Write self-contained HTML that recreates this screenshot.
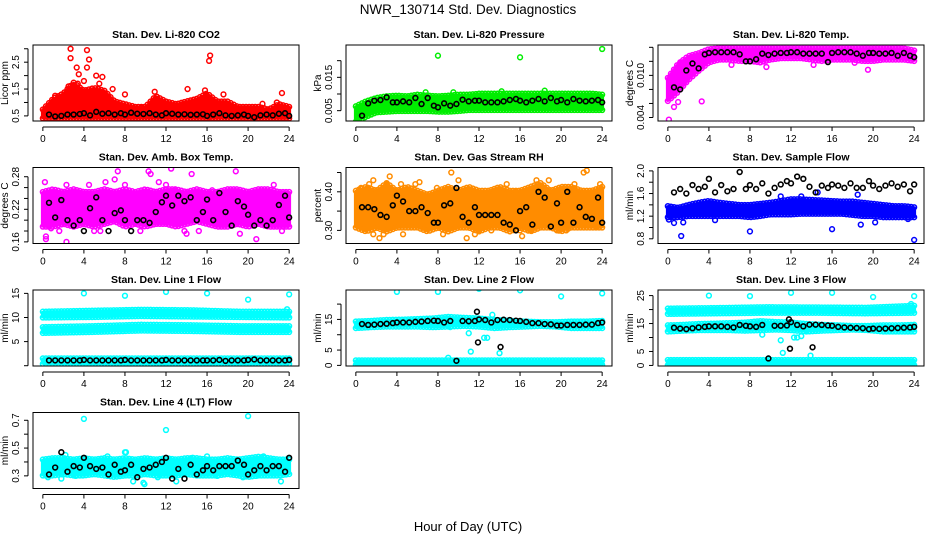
<!DOCTYPE html>
<html><head><meta charset="utf-8"><style>
body{margin:0;background:#fff;}
svg{display:block;font-family:"Liberation Sans",sans-serif;}
</style></head><body>
<svg id="chart" width="936" height="540" viewBox="0 0 936 540" xmlns="http://www.w3.org/2000/svg">
<text x="468" y="14" font-size="13.5" text-anchor="middle">NWR_130714 Std. Dev. Diagnostics</text>
<text x="468" y="531" font-size="13" text-anchor="middle">Hour of Day (UTC)</text>
</svg>
<script>
// shared hour positions for black (hourly) points
const bx = [0.6,1.2,1.8,2.4,3.0,3.6,4.0,4.6,5.2,5.8,6.4,7.0,7.6,8.0,8.6,9.2,9.8,10.4,11.0,11.6,12.0,12.6,13.2,13.8,14.4,15.0,15.6,16.0,16.6,17.2,17.8,18.4,19.0,19.6,20.0,20.6,21.2,21.8,22.4,23.0,23.6,24.0];
const xTicks = [0,4,8,12,16,20,24];

// Panel 1: CO2
const p1BandLo = [0.45,0.45];
const p1BandHi = [0.7,1.1,1.3,1.7,1.4,1.5,1.4,1.0,0.9,0.8,0.8,1.2,1.0,0.9,1.0,1.1,1.3,1.0,1.0,0.8,0.8,0.8,0.7,0.9,0.8];
const p1OutX = [2.7,2.7,4.3,4.5,3.3,4.3,3.5,5.2,5.8,16.3,16.2,14.1,6.8,1.2,8.0,17.6,23.3,10.9,2.5,3.4,4.0,5.5,15.8,16.0,1.5,9.6,21.4,22.8,7.0];
const p1OutY = [3.0,2.65,2.95,2.6,2.3,2.3,2.05,2.0,1.95,2.75,2.55,1.5,1.5,1.25,1.3,1.3,1.35,1.4,1.6,1.7,1.8,1.7,1.45,0.35,1.0,0.8,0.95,1.0,0.95];
const p1Black = [0.55,0.48,0.5,0.55,0.55,0.57,0.6,0.52,0.65,0.58,0.6,0.55,0.6,0.55,0.62,0.58,0.57,0.6,0.55,0.52,0.6,0.58,0.55,0.56,0.54,0.55,0.56,0.5,0.55,0.6,0.52,0.5,0.52,0.55,0.5,0.45,0.52,0.55,0.52,0.58,0.6,0.5];

// Panel 2: Pressure
const p2BandLo = [.002,.0035,.0048,.005,.0052,.0052,.0052,.0052,.005,.005,.0052,.0055,.0055,.0055,.0055,.0055,.0055,.0055,.0055,.0055,.0055,.0055,.0055,.0055,.0055];
const p2BandHi = [.006,.0075,.0085,.009,.0092,.009,.0095,.0092,.009,.0092,.0095,.0095,.0098,.0098,.0098,.0098,.0098,.0098,.0098,.0098,.0098,.0098,.0098,.0098,.0095];
const p2OutX = [8.0,16.0,24.0,6.8,9.5,18.4,14.2];
const p2OutY = [.0215,.021,.0235,.0105,.0105,.011,.0108];
const p2Black = [.0035,.0072,.008,.0082,.009,.0075,.0075,.0078,.0075,.0088,.007,.0088,.0065,.006,.0072,.0065,.007,.0083,.0078,.008,.008,.0075,.0075,.0075,.0078,.0082,.0085,.008,.0075,.008,.0085,.0078,.0088,.0078,.0082,.0075,.0085,.008,.0078,.008,.0082,.0075];

// Panel 3: Li-820 Temp
const p3BandLo = [.0065,.0078,.0095,.0108,.0120,.0124,.0124,.0122,.0122,.0120,.0124,.0126,.0126,.0126,.0124,.0122,.0124,.0124,.0124,.0122,.0122,.0124,.0124,.0124,.0122];
const p3BandHi = [.0095,.0115,.0126,.0130,.0136,.0137,.0137,.0137,.0137,.0137,.0137,.0137,.0137,.0137,.0137,.0137,.0137,.0137,.0137,.0137,.0137,.0137,.0137,.0137,.0134];
const p3OutX = [0.1,0.6,1.0,3.3,19.5,9.6,0.2,1.3,6.2,14.2,18.2];
const p3OutY = [.0037,.0055,.0062,.0063,.0108,.0112,.0085,.0118,.0115,.0115,.0118];
const p3Black = [.0083,.0080,.0107,.0117,.0110,.0130,.0132,.0133,.0133,.0133,.0133,.0130,.0120,.0120,.0123,.0131,.0129,.0131,.0132,.0132,.0133,.0133,.0131,.0131,.0131,.0131,.0119,.0132,.0133,.0133,.0133,.0131,.0128,.0132,.0132,.0131,.0131,.0132,.0128,.0132,.0128,.0126];

// Panel 4: Amb. Box Temp
const p4BandLo = [.19,.19,.195,.19,.195,.19,.195,.2,.19,.195,.19,.195,.195,.19,.195,.2,.195,.19,.19,.195,.19,.195,.19,.19,.19];
const p4BandHi = [.25,.255,.25,.255,.25,.25,.255,.25,.255,.25,.255,.25,.255,.255,.25,.255,.25,.25,.255,.255,.25,.255,.255,.25,.25];
const p4OutX = [0.2,0.3,0.3,2.3,2.9,4.5,5.6,6.1,7.0,7.3,9.5,10.3,10.5,11.3,12.0,12.5,13.8,14.0,14.5,15.2,16.5,17.0,18.8,19.2,20.8,22.5,23.3,2.3,8.0,12.8,5.0,1.6,0.8];
const p4OutY = [.27,.17,.165,.16,.25,.265,.18,.27,.275,.29,.18,.29,.285,.27,.265,.295,.18,.175,.285,.18,.255,.24,.29,.175,.165,.265,.18,.265,.265,.255,.18,.18,.185];
const p4Black = [.232,.205,.237,.20,.19,.20,.18,.222,.242,.20,.18,.213,.218,.20,.18,.20,.20,.195,.215,.233,.245,.227,.245,.235,.242,.20,.215,.238,.20,.25,.215,.19,.235,.225,.21,.19,.20,.19,.20,.228,.245,.205];

// Panel 5: Gas Stream RH
const p5BandLo = [.31,.30,.31,.30,.31,.31,.31,.30,.31,.30,.31,.31,.30,.31,.31,.30,.31,.30,.31,.31,.30,.31,.31,.31,.31];
const p5BandHi = [.40,.41,.40,.42,.40,.41,.40,.39,.40,.41,.40,.41,.40,.40,.41,.40,.40,.41,.42,.40,.41,.41,.40,.40,.41];
const p5OutX = [0.5,1.3,1.7,2.3,2.7,3.3,4.4,4.6,6.2,7.9,8.5,9.3,10.0,10.8,11.6,13.2,14.7,16.2,17.0,17.6,18.8,19.6,20.5,21.3,22.2,22.5,23.5,23.8,1.7,3.0,5.8,12.0,15.5,16.0];
const p5OutY = [.41,.42,.43,.28,.29,.44,.42,.29,.425,.41,.29,.45,.43,.28,.29,.30,.42,.285,.30,.43,.43,.30,.30,.42,.45,.455,.31,.42,.29,.42,.42,.30,.40,.30];
const p5Black = [.36,.36,.355,.34,.335,.365,.39,.375,.35,.35,.36,.345,.32,.32,.365,.37,.41,.335,.32,.36,.34,.34,.34,.34,.32,.315,.30,.35,.36,.315,.40,.385,.31,.37,.32,.40,.32,.36,.335,.33,.385,.32];

// Panel 6: Sample Flow
const p6BandLo = [1.2,1.2,1.22,1.22,1.22,1.22,1.22,1.22,1.2,1.22,1.25,1.25,1.25,1.26,1.26,1.26,1.26,1.26,1.24,1.22,1.22,1.2,1.2,1.2,1.2];
const p6BandHi = [1.36,1.33,1.38,1.42,1.45,1.42,1.4,1.38,1.38,1.4,1.42,1.45,1.48,1.48,1.47,1.46,1.45,1.44,1.44,1.42,1.4,1.38,1.36,1.36,1.34];
const p6OutX = [1.3,8.0,16.0,24.0,0.6,4.6,18.8,20.2,11.0,13.0,14.6,18.5,0.1,1.5,23.4];
const p6OutY = [0.85,0.93,0.97,0.78,1.08,1.13,1.05,1.09,1.55,1.55,1.62,1.58,1.14,1.09,1.15];
const p6Black = [1.62,1.68,1.60,1.75,1.68,1.72,1.86,1.62,1.75,1.64,1.68,1.98,1.68,1.75,1.68,1.78,1.60,1.70,1.76,1.82,1.78,1.90,1.86,1.72,1.62,1.74,1.70,1.76,1.74,1.70,1.78,1.70,1.70,1.82,1.74,1.68,1.74,1.78,1.72,1.76,1.64,1.76];

// Panel 7: Line 1 Flow
const p7BandALo = [10.2,10.3,10.5,10.4,10.3,10.2];
const p7BandAHi = [11.0,11.2,11.4,11.3,11.0,11.0];
const p7BandBLo = [7.0,7.2,7.5,7.4,7.2,7.2];
const p7BandBHi = [7.8,8.0,8.3,8.2,8.0,8.0];
const p7BandCLo = [0.6,0.6];
const p7BandCHi = [1.3,1.3];
const p7OutX = [4,8,12,16,20,24,23.8];
const p7OutY = [15,14.5,15.3,15,13.7,14.8,11.7];
const p7Black = [1.1,1.1,1.1,1.1,1.1,1.1,1.2,1.1,1.1,1.1,1.1,1.1,1.1,1.2,1.1,1.1,1.1,1.1,1.1,1.1,1.2,1.1,1.1,1.1,1.1,1.1,1.1,1.1,1.1,1.2,1.0,1.1,1.1,1.1,1.2,1.3,1.1,1.1,1.1,1.1,1.1,1.2];

// Panel 8: Line 2 Flow
const p8BandALo = [12.5,12.8,13,13,13,12.8,13,13.2,13,12.5,12.8,13,13.2,13,12.5,12.5,12.5];
const p8BandAHi = [14,14.2,14.5,14.6,14.8,15,15.5,15.2,15,14.5,14.2,14,13.8,13.8,14,14,14.2];
const p8BandBLo = [0.5,0.5];
const p8BandBHi = [1.3,1.3];
const p8OutX = [4,8,12,16,20,24,11,11.2,12.5,12.8,13.3,14,9,9.2];
const p8OutY = [24,24,25,24.5,22.5,23.5,10.5,4.5,9,9,16.5,4,2.5,12.5];
const p8Black = [13.5,13.2,13.3,13.5,13.6,13.8,14,14,14,14.2,14.3,14.5,14.6,14.5,14,14.5,1.5,14.5,14.4,14.5,15,14.8,14,14.8,14.9,14.8,14.6,14.5,14.2,13.8,13.8,13.5,13.4,13,13,13.2,13.2,13.2,13.3,13.3,13.8,14];
const p8ExtraX = [11.8,11.9,14.1];
const p8ExtraY = [17.5,7.5,6];

// Panel 9: Line 3 Flow
const p9BandALo = [18.8,19.0,19.2,19.2,19.0,19.2];
const p9BandAHi = [20.0,20.2,20.5,20.4,20.3,21.0];
const p9BandBLo = [12.5,12.8,13,13,13,12.8,13,13.2,13,12.5,12.8,13,13.2,13,12.5,12.5,12.5];
const p9BandBHi = [14,14.2,14.5,14.6,14.8,15,15.5,15.2,15,14.5,14.2,14,13.8,13.8,14,14,14.2];
const p9BandCLo = [0.5,0.5];
const p9BandCHi = [1.6,1.6];
const p9OutX = [4,8,12,16,20,24,23.7,9.2,11,11.2,12.3,12.6,13,13.5,13.9,9.8];
const p9OutY = [25,24.8,26,26,24.5,24.8,22,11,9,4.5,10,10,10.5,12.5,3.5,2.5];
const p9Black = [13.5,13.2,13,13.3,13.6,13.8,14,14,14,13.8,13.6,14.5,14.2,14,13.8,14.5,2.5,14.2,14.2,14.3,15.5,14.5,14,14.6,14.6,14.5,14.3,14.2,13.8,13.6,13.5,13.4,13.3,13,13.2,13.1,13.2,13.3,13.4,13.5,13.6,13.8];
const p9ExtraX = [11.8,11.9,14.1];
const p9ExtraY = [16.5,6,6.5];

// Panel 10: Line 4 (LT) Flow
const p10BandLo = [.31,.31,.32,.31,.31,.32,.31,.30,.31,.31,.32,.31,.31,.31,.32,.31,.31,.31,.32,.31,.30,.31,.31,.31,.32];
const p10BandHi = [.41,.42,.42,.41,.42,.41,.42,.41,.42,.41,.42,.41,.42,.41,.42,.42,.41,.41,.42,.41,.42,.43,.42,.41,.41];
const p10OutX = [4,8,12,20,0.5,1.8,3.2,6.3,8.1,8.8,9.8,9.9,13,14.6,16,17,19.5,20.8,23.2,2.2,11.2,21.5];
const p10OutY = [.71,.47,.63,.73,.29,.28,.30,.44,.47,.26,.25,.24,.26,.43,.44,.30,.29,.30,.26,.45,.29,.44];
const p10Black = [.31,.36,.47,.33,.37,.36,.43,.37,.35,.36,.31,.38,.33,.34,.38,.29,.35,.36,.38,.40,.43,.28,.35,.28,.38,.31,.34,.37,.34,.37,.37,.37,.41,.38,.31,.34,.37,.34,.37,.37,.33,.43];

const NS = 'http://www.w3.org/2000/svg';
const svg = document.getElementById('chart');
const colLeft = [33,346,658];
const rowTop = [45,167.5,290,412.5];
const PW = 266, PH = 76;

function mk(tag, attrs, parent){
  const e = document.createElementNS(NS, tag);
  for (const k in attrs) e.setAttribute(k, attrs[k]);
  (parent||svg).appendChild(e);
  return e;
}
function interp(arr, h){
  const n = arr.length - 1;
  const t = h / 24 * n;
  const i = Math.min(Math.floor(t), n - 1);
  const f = t - i;
  return arr[i] * (1 - f) + arr[i + 1] * f;
}

function panel(cfg){
  const L = colLeft[cfg.col], T = rowTop[cfg.row];
  const g = mk('g', {});
  
  
  const xs = h => L + (h + 0.96) / 25.92 * PW;
  const ys = v => T + PH - (v - cfg.ymin) / (cfg.ymax - cfg.ymin) * PH;
  const clip = 'clip-' + cfg.name;
  const cp = mk('clipPath', {id: clip}, g);
  mk('rect', {x: L, y: T, width: PW, height: PH}, cp);
  const plot = mk('g', {'clip-path': 'url(#' + clip + ')'}, g);
  // bands
  (cfg.bands || []).forEach(b => {
    let top = '', bot = [];
    for (let h = 0; h <= 24.0001; h += 0.25) {
      top += (top ? 'L' : 'M') + xs(h).toFixed(1) + ',' + ys(interp(b.hi, h)).toFixed(1);
      bot.push('L' + xs(h).toFixed(1) + ',' + ys(interp(b.lo, h)).toFixed(1));
    }
    const p = mk('path', {d: top + bot.reverse().join('') + 'Z', fill: b.color, stroke: b.color, 'stroke-width': 4, 'stroke-linejoin': 'round'}, plot);
    
    
    // textured edges
    for (let h = 0; h <= 24.0001; h += 0.3) {
      [b.hi, b.lo].forEach((arr, k) => {
        const c = mk('circle', {cx: xs(h), cy: ys(interp(arr, h)) + (k ? 1 : -1), r: 2.4, fill: 'none', stroke: b.color, 'stroke-width': 1.5}, plot);
        
        
      });
    }
  });
  // outliers
  (cfg.ox || []).forEach((h, i) => {
    const c = mk('circle', {cx: xs(h), cy: ys(cfg.oy[i]), r: 2.4, fill: 'none', stroke: cfg.ocolor, 'stroke-width': 1.5}, plot);
    
    
  });
  // black hourly points
  bx.forEach((h, i) => {
    const c = mk('circle', {cx: xs(h), cy: ys(cfg.black[i]), r: 2.4, fill: 'none', stroke: '#000', 'stroke-width': 1.6}, plot);
    
    
  });
  (cfg.ex || []).forEach((h, i) => {
    const c = mk('circle', {cx: xs(h), cy: ys(cfg.ey[i]), r: 2.4, fill: 'none', stroke: '#000', 'stroke-width': 1.6}, plot);
    
    
  });
  // frame
  const fr = mk('rect', {x: L, y: T, width: PW, height: PH, fill: 'none', stroke: '#000', 'stroke-width': 1}, g);
  
  
  // x axis
  mk('line', {x1: xs(0), x2: xs(24), y1: T + PH + 6, y2: T + PH + 6, stroke: '#000'}, g);
  xTicks.forEach(t => {
    mk('line', {x1: xs(t), x2: xs(t), y1: T + PH + 6, y2: T + PH + 10, stroke: '#000'}, g);
    const tx = mk('text', {x: xs(t), y: T + PH + 21, 'font-size': 10, 'text-anchor': 'middle'}, g);
    
    
    tx.textContent = t;
  });
  // y axis
  const ax = L - 5;
  mk('line', {x1: ax, x2: ax, y1: ys(cfg.yt[0]), y2: ys(cfg.yt[cfg.yt.length - 1]), stroke: '#000'}, g);
  cfg.yt.forEach((t, i) => {
    mk('line', {x1: ax - 4, x2: ax, y1: ys(t), y2: ys(t), stroke: '#000'}, g);
    if (cfg.yl[i]) {
      const y = ys(t);
      const tx = mk('text', {x: ax - 9, y: y, 'font-size': 10, 'text-anchor': 'middle', transform: 'rotate(-90 ' + (ax - 9) + ' ' + y + ')'}, g);
      
      
      tx.textContent = cfg.yl[i];
    }
  });
  const yl = mk('text', {x: L - 25, y: T + PH / 2, 'font-size': 10, 'text-anchor': 'middle', transform: 'rotate(-90 ' + (L - 25) + ' ' + (T + PH / 2) + ')'}, g);
  
  
  yl.textContent = cfg.ylab;
  const ti = mk('text', {x: L + PW / 2, y: T - 7, 'font-size': 10.5, 'font-weight': 'bold', 'text-anchor': 'middle'}, g);
  
  
  ti.textContent = cfg.title;
}

const RED = '#ff0000', GRN = '#00ee00', MAG = '#ff00ff', ORG = '#ff8c00', BLU = '#0000ff', CYN = '#00ffff';

panel({name:'co2-panel', col:0,row:0,title:'Stan. Dev. Li-820 CO2',ylab:'Licor ppm',ymin:0.31,ymax:3.14,
  yt:[0.5,1,1.5,2,2.5,3],yl:['0.5','','1.5','','2.5',''],
  bands:[{lo:p1BandLo,hi:p1BandHi,color:RED}],ox:p1OutX,oy:p1OutY,ocolor:RED,black:p1Black});
panel({name:'pressure-panel', col:1,row:0,title:'Stan. Dev. Li-820 Pressure',ylab:'kPa',ymin:0.0019,ymax:0.0247,
  yt:[0.005,0.01,0.015,0.02],yl:['0.005','','0.015',''],
  bands:[{lo:p2BandLo,hi:p2BandHi,color:GRN}],ox:p2OutX,oy:p2OutY,ocolor:GRN,black:p2Black});
panel({name:'temp-panel', col:2,row:0,title:'Stan. Dev. Li-820 Temp.',ylab:'degrees C',ymin:0.0035,ymax:0.01433,
  yt:[0.004,0.006,0.008,0.010,0.012,0.014],yl:['0.004','','','0.010','',''],
  bands:[{lo:p3BandLo,hi:p3BandHi,color:MAG}],ox:p3OutX,oy:p3OutY,ocolor:MAG,black:p3Black});
panel({name:'amb-box-panel', col:0,row:1,title:'Stan. Dev. Amb. Box Temp.',ylab:'degrees C',ymin:0.157,ymax:0.297,
  yt:[0.16,0.18,0.2,0.22,0.24,0.26,0.28],yl:['0.16','','','0.22','','','0.28'],
  bands:[{lo:p4BandLo,hi:p4BandHi,color:MAG}],ox:p4OutX,oy:p4OutY,ocolor:MAG,black:p4Black});
panel({name:'rh-panel', col:1,row:1,title:'Stan. Dev. Gas Stream RH',ylab:'percent',ymin:0.266,ymax:0.463,
  yt:[0.30,0.35,0.40,0.45],yl:['0.30','','0.40',''],
  bands:[{lo:p5BandLo,hi:p5BandHi,color:ORG}],ox:p5OutX,oy:p5OutY,ocolor:ORG,black:p5Black});
panel({name:'sample-flow-panel', col:2,row:1,title:'Stan. Dev. Sample Flow',ylab:'ml/min',ymin:0.717,ymax:2.06,
  yt:[0.8,1.0,1.2,1.4,1.6,1.8,2.0],yl:['0.8','','1.2','','1.6','','2.0'],
  bands:[{lo:p6BandLo,hi:p6BandHi,color:BLU}],ox:p6OutX,oy:p6OutY,ocolor:BLU,black:p6Black});
panel({name:'line1-panel', col:0,row:2,title:'Stan. Dev. Line 1 Flow',ylab:'ml/min',ymin:-0.06,ymax:15.7,
  yt:[0,5,10,15],yl:['','5','10','15'],
  bands:[{lo:p7BandALo,hi:p7BandAHi,color:CYN},{lo:p7BandBLo,hi:p7BandBHi,color:CYN},{lo:p7BandCLo,hi:p7BandCHi,color:CYN}],
  ox:p7OutX,oy:p7OutY,ocolor:CYN,black:p7Black});
panel({name:'line2-panel', col:1,row:2,title:'Stan. Dev. Line 2 Flow',ylab:'ml/min',ymin:-0.2,ymax:24.6,
  yt:[0,5,10,15,20],yl:['0','5','','15',''],
  bands:[{lo:p8BandALo,hi:p8BandAHi,color:CYN},{lo:p8BandBLo,hi:p8BandBHi,color:CYN}],
  ox:p8OutX,oy:p8OutY,ocolor:CYN,black:p8Black,ex:p8ExtraX,ey:p8ExtraY});
panel({name:'line3-panel', col:2,row:2,title:'Stan. Dev. Line 3 Flow',ylab:'ml/min',ymin:-0.2,ymax:27,
  yt:[0,5,10,15,20,25],yl:['0','5','','15','','25'],
  bands:[{lo:p9BandALo,hi:p9BandAHi,color:CYN},{lo:p9BandBLo,hi:p9BandBHi,color:CYN},{lo:p9BandCLo,hi:p9BandCHi,color:CYN}],
  ox:p9OutX,oy:p9OutY,ocolor:CYN,black:p9Black,ex:p9ExtraX,ey:p9ExtraY});
panel({name:'line4-panel', col:0,row:3,title:'Stan. Dev. Line 4 (LT) Flow',ylab:'ml/min',ymin:0.209,ymax:0.756,
  yt:[0.3,0.4,0.5,0.6,0.7],yl:['0.3','','0.5','','0.7'],
  bands:[{lo:p10BandLo,hi:p10BandHi,color:CYN}],ox:p10OutX,oy:p10OutY,ocolor:CYN,black:p10Black});
</script>
</body></html>
